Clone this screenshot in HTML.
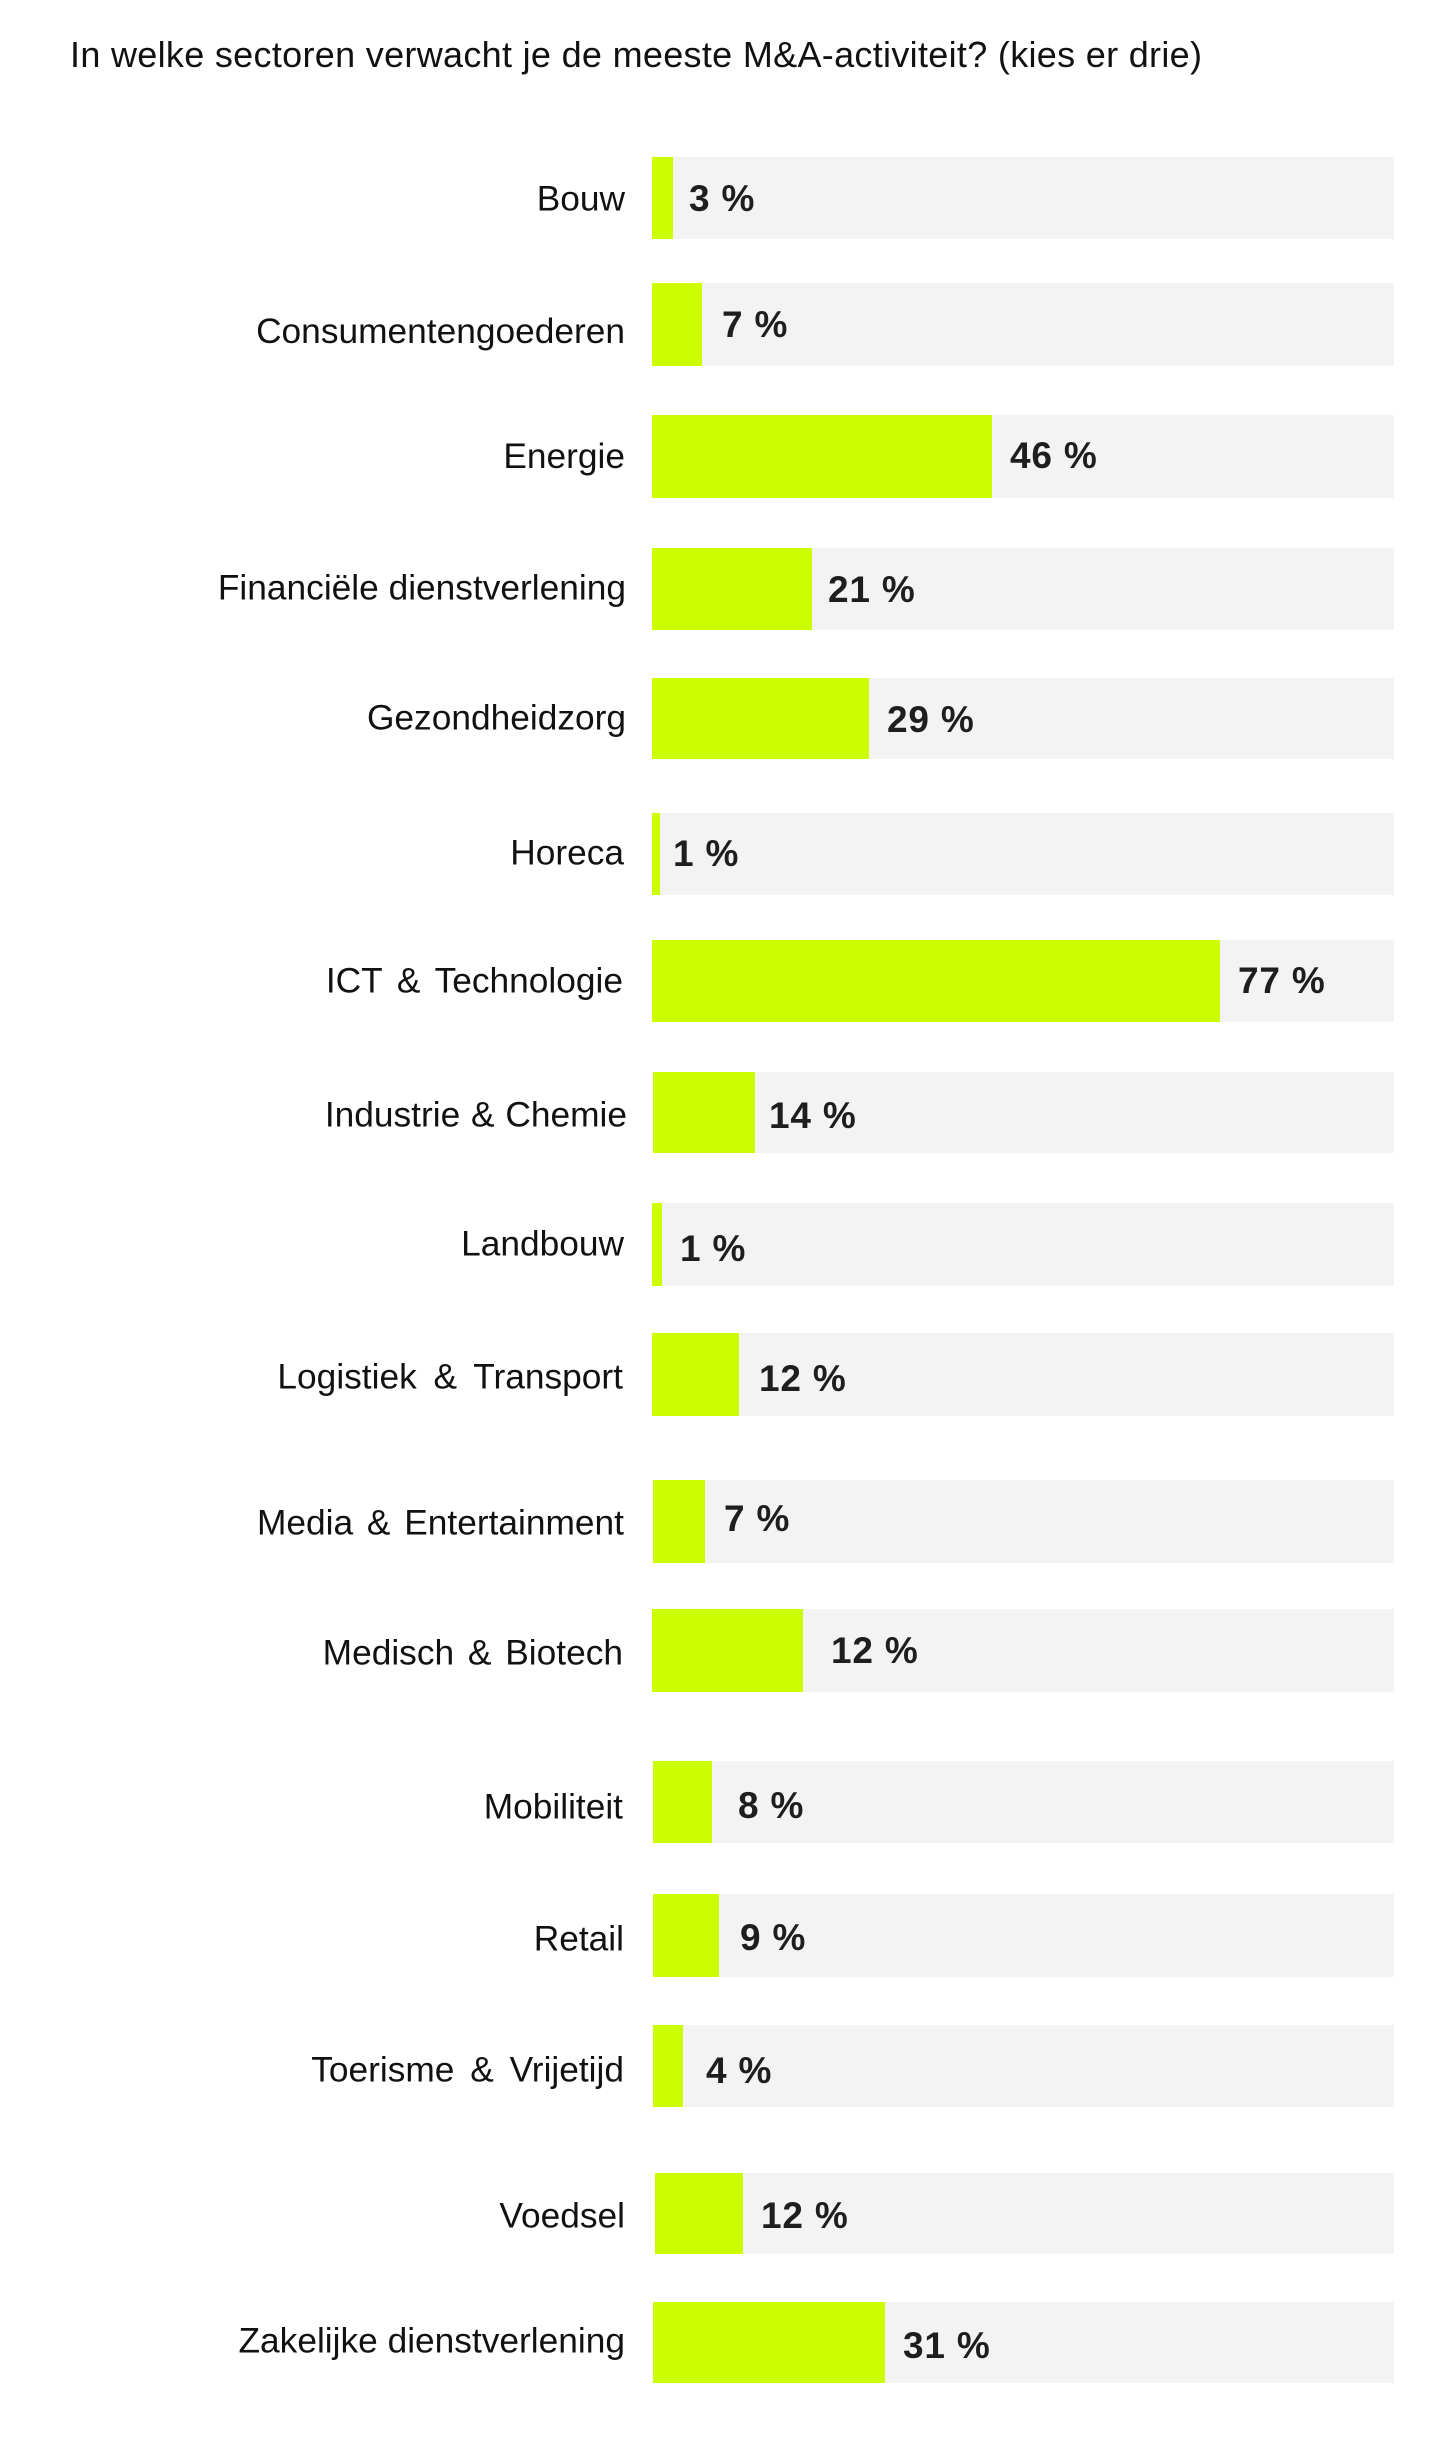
<!DOCTYPE html>
<html>
<head>
<meta charset="utf-8">
<style>
  html, body { margin:0; padding:0; background:#ffffff; }
  body { width:1440px; height:2443px; overflow:hidden; }
  svg { display:block; }
  .lbl { font-family:"Liberation Sans", Arial, sans-serif; font-size:35.3px; fill:#111111; }
  .val { font-family:"Liberation Sans", Arial, sans-serif; font-size:37px; font-weight:bold; fill:#1e1e1e; letter-spacing:0.8px; word-spacing:0px; }
  .ttl { font-family:"Liberation Sans", Arial, sans-serif; font-size:36px; fill:#111111; }
  .trk { fill:#f3f3f3; }
  .bar { fill:#ccfd00; }
</style>
</head>
<body>
<svg width="1440" height="2443" viewBox="0 0 1440 2443" xmlns="http://www.w3.org/2000/svg">
  <rect x="0" y="0" width="1440" height="2443" fill="#ffffff"/>
  <text class="ttl" x="70" y="67" textLength="1132" lengthAdjust="spacing">In welke sectoren verwacht je de meeste M&amp;A-activiteit? (kies er drie)</text>

  <!-- Bouw -->
  <rect class="trk" x="652" y="157" width="742" height="82"/>
  <rect class="bar" x="652" y="157" width="21" height="82"/>
  <text class="lbl" x="625" y="210.5" text-anchor="end">Bouw</text>
  <text class="val" x="689" y="211">3 %</text>

  <!-- Consumentengoederen -->
  <rect class="trk" x="652" y="283" width="742" height="83"/>
  <rect class="bar" x="652" y="283" width="50" height="83"/>
  <text class="lbl" x="625" y="343" text-anchor="end">Consumentengoederen</text>
  <text class="val" x="722" y="337">7 %</text>

  <!-- Energie -->
  <rect class="trk" x="652" y="415" width="742" height="83"/>
  <rect class="bar" x="652" y="415" width="340" height="83"/>
  <text class="lbl" x="625" y="468" text-anchor="end">Energie</text>
  <text class="val" x="1010" y="468">46 %</text>

  <!-- Financiële dienstverlening -->
  <rect class="trk" x="652" y="548" width="742" height="82"/>
  <rect class="bar" x="652" y="548" width="160" height="82"/>
  <text class="lbl" x="626" y="599.5" text-anchor="end">Financiële dienstverlening</text>
  <text class="val" x="828" y="602">21 %</text>

  <!-- Gezondheidzorg -->
  <rect class="trk" x="652" y="678" width="742" height="81"/>
  <rect class="bar" x="652" y="678" width="217" height="81"/>
  <text class="lbl" x="626" y="729.5" text-anchor="end">Gezondheidzorg</text>
  <text class="val" x="887" y="732">29 %</text>

  <!-- Horeca -->
  <rect class="trk" x="652" y="813" width="742" height="82"/>
  <rect class="bar" x="652" y="813" width="8" height="82"/>
  <text class="lbl" x="624" y="864.5" text-anchor="end">Horeca</text>
  <text class="val" x="673" y="866">1 %</text>

  <!-- ICT & Technologie -->
  <rect class="trk" x="652" y="940" width="742" height="82"/>
  <rect class="bar" x="652" y="940" width="568" height="82"/>
  <text class="lbl" x="623" y="992.5" text-anchor="end" word-spacing="5">ICT &amp; Technologie</text>
  <text class="val" x="1238" y="993">77 %</text>

  <!-- Industrie & Chemie -->
  <rect class="trk" x="653" y="1072" width="741" height="81"/>
  <rect class="bar" x="653" y="1072" width="102" height="81"/>
  <text class="lbl" x="627" y="1126.5" text-anchor="end" word-spacing="1">Industrie &amp; Chemie</text>
  <text class="val" x="769" y="1128">14 %</text>

  <!-- Landbouw -->
  <rect class="trk" x="652" y="1203" width="742" height="83"/>
  <rect class="bar" x="652" y="1203" width="10" height="83"/>
  <text class="lbl" x="624" y="1255.5" text-anchor="end">Landbouw</text>
  <text class="val" x="680" y="1261">1 %</text>

  <!-- Logistiek & Transport -->
  <rect class="trk" x="652" y="1333" width="742" height="83"/>
  <rect class="bar" x="652" y="1333" width="87" height="83"/>
  <text class="lbl" x="623" y="1388.5" text-anchor="end" word-spacing="7">Logistiek &amp; Transport</text>
  <text class="val" x="759" y="1391">12 %</text>

  <!-- Media & Entertainment -->
  <rect class="trk" x="653" y="1480" width="741" height="83"/>
  <rect class="bar" x="653" y="1480" width="52" height="83"/>
  <text class="lbl" x="624" y="1534.5" text-anchor="end" word-spacing="4">Media &amp; Entertainment</text>
  <text class="val" x="724" y="1531">7 %</text>

  <!-- Medisch & Biotech -->
  <rect class="trk" x="652" y="1609" width="742" height="83"/>
  <rect class="bar" x="652" y="1609" width="151" height="83"/>
  <text class="lbl" x="623" y="1664.5" text-anchor="end" word-spacing="4">Medisch &amp; Biotech</text>
  <text class="val" x="831" y="1663">12 %</text>

  <!-- Mobiliteit -->
  <rect class="trk" x="653" y="1761" width="741" height="82"/>
  <rect class="bar" x="653" y="1761" width="59" height="82"/>
  <text class="lbl" x="623" y="1818.5" text-anchor="end">Mobiliteit</text>
  <text class="val" x="738" y="1818">8 %</text>

  <!-- Retail -->
  <rect class="trk" x="653" y="1894" width="741" height="83"/>
  <rect class="bar" x="653" y="1894" width="66" height="83"/>
  <text class="lbl" x="624" y="1950.5" text-anchor="end">Retail</text>
  <text class="val" x="740" y="1950">9 %</text>

  <!-- Toerisme & Vrijetijd -->
  <rect class="trk" x="653" y="2025" width="741" height="82"/>
  <rect class="bar" x="653" y="2025" width="30" height="82"/>
  <text class="lbl" x="624" y="2081.5" text-anchor="end" word-spacing="6">Toerisme &amp; Vrijetijd</text>
  <text class="val" x="706" y="2083">4 %</text>

  <!-- Voedsel -->
  <rect class="trk" x="655" y="2173" width="739" height="81"/>
  <rect class="bar" x="655" y="2173" width="88" height="81"/>
  <text class="lbl" x="625" y="2227.5" text-anchor="end">Voedsel</text>
  <text class="val" x="761" y="2228">12 %</text>

  <!-- Zakelijke dienstverlening -->
  <rect class="trk" x="653" y="2302" width="741" height="81"/>
  <rect class="bar" x="653" y="2302" width="232" height="81"/>
  <text class="lbl" x="625" y="2352.5" text-anchor="end">Zakelijke dienstverlening</text>
  <text class="val" x="903" y="2358">31 %</text>
</svg>
</body>
</html>
